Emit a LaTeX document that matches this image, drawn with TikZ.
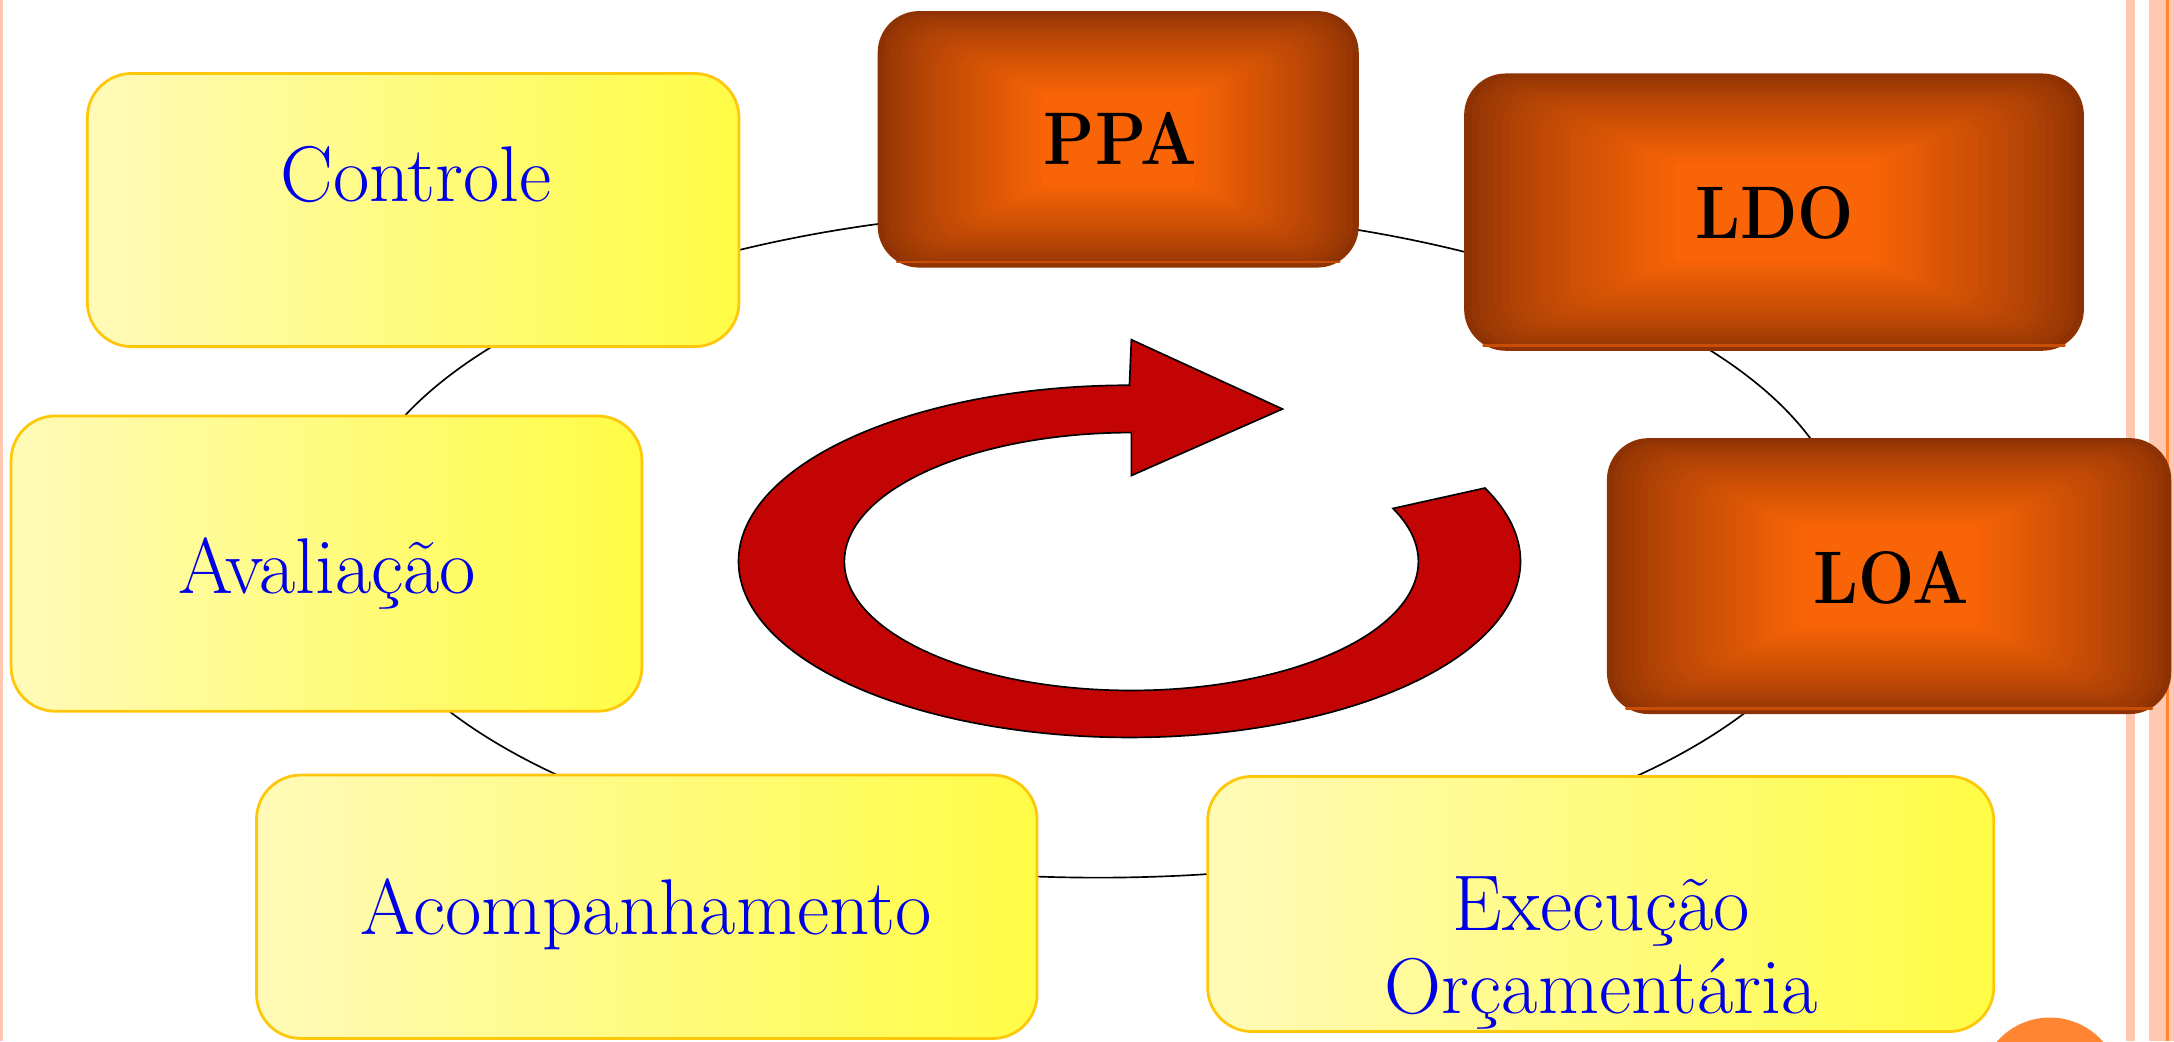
\documentclass[tikz,border=0pt]{standalone}
\usepackage{fontspec}
\usetikzlibrary{calc}
\definecolor{YL}{HTML}{FFFAB8}
\definecolor{YR}{HTML}{FFFC45}
\definecolor{YBord}{HTML}{FFC70A}
\definecolor{TBlue}{HTML}{0000E6}
\definecolor{OrgC}{HTML}{F86406}
\definecolor{OrgE}{HTML}{8E3204}
\definecolor{ArrRed}{HTML}{C20404}
\definecolor{Salmon}{HTML}{FFC6B0}
\definecolor{DecoOrange}{HTML}{FF8533}
\newcommand{\ytxt}{\fontsize{57}{60}\selectfont}
\newcommand{\otxt}{\fontsize{48}{56}\selectfont\bfseries}
\newcommand{\tallbox}[1]{\scalebox{1}[1.12]{#1}}
\tikzset{
  ybox/.style={draw=YBord, line width=2pt, rounded corners=32pt, left color=YL, right color=YR, inner sep=0pt, outer sep=0pt},
  obase/.style={fill=OrgE, rounded corners=30pt, inner sep=0pt, outer sep=0pt},
  ylabel/.style={text=TBlue, font=\ytxt, anchor=base, align=center, inner sep=0pt},
  olabel/.style={text=black, font=\otxt, anchor=base, inner sep=0pt},
  ring/.style={line width=1.2pt, black},
}
% orange box: name, cx, cy, w, h
\newcommand{\obox}[5]{%
  \node[obase, minimum width=#4pt, minimum height=#5pt] (#1) at (#2,#3) {};
  \foreach \i in {1,...,28} {%
    \pgfmathsetmacro\ff{\i/28}%
    \pgfmathsetmacro\ddx{\ff*0.34*#4}%
    \pgfmathsetmacro\ddy{\ff*0.32*#5}%
    \pgfmathtruncatemacro\pp{100*\ff^0.75}%
    \pgfmathsetmacro\rc{max(4,30*(1-\ff))}%
    \fill[OrgC!\pp!OrgE, rounded corners=\rc pt]
      ($(#1.south west)+(\ddx pt,\ddy pt)$) rectangle ($(#1.north east)-(\ddx pt,\ddy pt)$);
  }
  \draw[OrgC!55!OrgE, line width=2pt, line cap=round]
    ($(#1.south west)+(14pt,4pt)$) -- ($(#1.south east)+(-14pt,4pt)$);
}
\begin{document}
\begin{tikzpicture}[x=1pt,y=-1pt]
\useasboundingbox (0,0) rectangle (1568,751);
\fill[white] (0,0) rectangle (1568,751);

% right-hand decoration stripes and left edge
\fill[Salmon] (1533.3,0) rectangle (1539.8,751);
\fill[Salmon] (1550,0) rectangle (1568,751);
\fill[DecoOrange] (1562.2,0) rectangle (1564.4,751);
\fill[Salmon] (0,0) rectangle (2,751);

% cycle ellipse
\draw[ring] (792,392) ellipse [x radius=541, y radius=241];

% yellow boxes
\node[ybox, minimum width=470pt, minimum height=197pt] (ctrl) at (298,151.5) {};
\node[ybox, minimum width=455pt, minimum height=213pt] (aval) at (235.5,406.5) {};
\node[ybox, minimum width=563pt, minimum height=190pt] (acomp) at (466.5,654) {};
\node[ybox, minimum width=567pt, minimum height=184pt] (exec) at (1154.5,652) {};

% orange boxes
\obox{ppa}{806.5}{100.5}{347}{185}
\obox{ldo}{1279.5}{153}{447}{200}
\obox{loa}{1362.5}{415.5}{407}{199}

% labels
\node[ylabel] (ctrl-t) at (300,145) {Controle};
\node[ylabel] (aval-t) at (236,428) {Avaliação};
\node[ylabel] (acomp-t) at (466,674) {Acompanhamento};
\node[ylabel] (exec-t) at (1155,731) {Execução\\Orçamentária};
\node[olabel] (ppa-t) at (808,119) {\tallbox{PPA}};
\node[olabel] (ldo-t) at (1280,172) {\tallbox{LDO}};
\node[olabel] (loa-t) at (1364,435) {\tallbox{LOA}};

% red circular arrow
\draw[fill=ArrRed, draw=black, line width=1.2pt, line join=miter]
  (1071,352) arc[start angle=-24.6, end angle=270, x radius=282, y radius=127]
  -- (816,245) -- (925,295) -- (816,343) -- (816,312)
  arc[start angle=-90, end angle=-384.3, x radius=207, y radius=93] -- cycle;

% orange circle at bottom right
\fill[DecoOrange] (1478.5,784.7) circle [radius=50.8];
\end{tikzpicture}
\end{document}
